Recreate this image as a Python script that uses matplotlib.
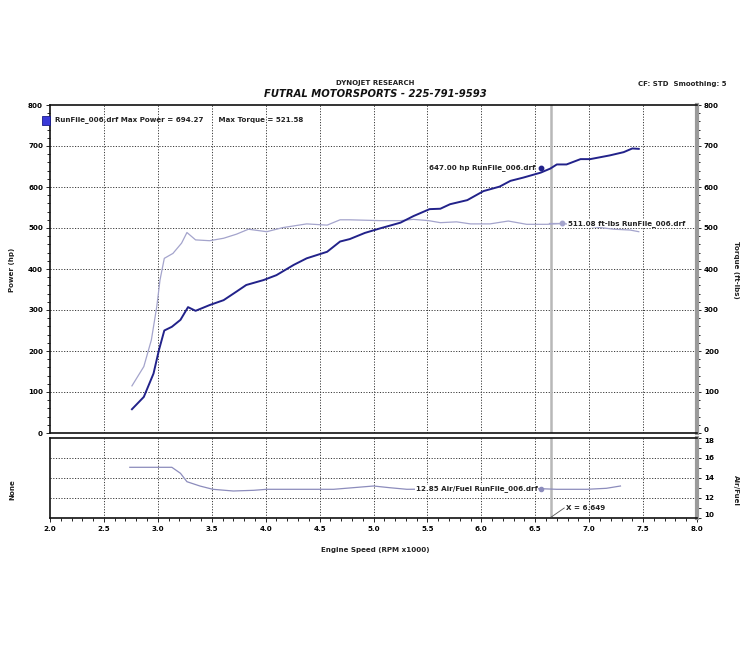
import matplotlib
matplotlib.use("Agg")
import matplotlib.pyplot as plt
from matplotlib.ticker import MultipleLocator
from matplotlib.patches import Rectangle

# ---------------- data ----------------
rpm_power = [2.76, 2.87, 2.96, 3.01, 3.06, 3.13, 3.21, 3.28, 3.35, 3.48, 3.61, 3.73, 3.82, 3.98,
             4.10, 4.26, 4.38, 4.57, 4.69, 4.78, 4.92, 5.06, 5.25, 5.37, 5.52, 5.62, 5.71, 5.87,
             6.02, 6.17, 6.27, 6.39, 6.55, 6.64, 6.70, 6.79, 6.92, 7.01, 7.19, 7.32, 7.40, 7.46]
power_hp = [58, 88, 145, 202, 250, 259, 276, 307, 298, 312, 324, 345, 361, 373,
            385, 410, 426, 442, 467, 473, 488, 499, 513, 529, 546, 547, 558, 568,
            590, 601, 615, 623, 635, 645, 655, 655, 668, 668, 677, 685, 694, 693]

rpm_torque = [2.76, 2.87, 2.94, 2.99, 3.02, 3.06, 3.14, 3.22, 3.27, 3.35, 3.48, 3.61, 3.73, 3.84,
              4.01, 4.16, 4.38, 4.57, 4.69, 4.78, 5.06, 5.25, 5.37, 5.51, 5.62, 5.77, 5.90,
              6.08, 6.25, 6.42, 6.61, 6.75, 7.04, 7.23, 7.38, 7.46]
torque_ftlb = [115, 162, 227, 308, 373, 426, 438, 463, 489, 471, 469, 475, 485, 497,
               491, 501, 510, 507, 520, 520, 518, 518, 521, 518, 513, 515, 510,
               510, 517, 509, 509, 511, 503, 497, 495, 491]

rpm_af = [2.74, 3.13, 3.21, 3.27, 3.39, 3.51, 3.70, 3.89, 4.01, 4.32, 4.63, 4.81, 5.00, 5.15,
          5.31, 5.60, 6.00, 6.30, 6.55, 6.70, 6.98, 7.16, 7.29]
air_fuel = [15.07, 15.07, 14.47, 13.63, 13.2, 12.87, 12.7, 12.77, 12.87, 12.87, 12.87, 13.03, 13.2, 13.03,
            12.87, 12.9, 12.9, 12.9, 12.93, 12.87, 12.87, 12.97, 13.2]

cursor_rpm = 6.649
power_marker = (6.55, 647.00)
torque_marker = (6.75, 511.08)
af_marker = (6.55, 12.93)

x_ticks = [2.0, 2.5, 3.0, 3.5, 4.0, 4.5, 5.0, 5.5, 6.0, 6.5, 7.0, 7.5, 8.0]
hp_ticks = [0, 100, 200, 300, 400, 500, 600, 700, 800]
af_ticks = [10, 12, 14, 16, 18]

max_power = 694.27
max_torque = 521.58

# ---------------- style ----------------
power_color = "#22228a"
torque_color = "#a4a4cc"
af_color = "#8c8cbc"
grid_kw = dict(color="#3a3a3a", linestyle=(0, (1.2, 1.6)), linewidth=0.7)
fs = 5.1

fig = plt.figure(figsize=(7.5, 6.49), dpi=100)
W, H = 750, 649

def frac_box(l, t, r, b):
    return [l / W, 1 - b / H, (r - l) / W, (b - t) / H]

ax = fig.add_axes(frac_box(50, 105, 697, 433))
ax2 = fig.add_axes(frac_box(50, 438, 697, 518), sharex=ax)

for a in (ax, ax2):
    a.set_xlim(2.0, 8.0)
    a.set_xticks(x_ticks)
    a.xaxis.set_minor_locator(MultipleLocator(0.1))
    for v in x_ticks[1:-1]:
        a.axvline(v, **grid_kw, zorder=1)
    a.axvline(cursor_rpm, color="#b8b8b8", linewidth=1.8, zorder=2)
    for s in a.spines.values():
        s.set_color("#111111")
        s.set_linewidth(1.2)
    a.spines["right"].set_color("#9a9a9a")
    a.spines["right"].set_linewidth(3)

# top axes
ax.set_ylim(0, 800)
ax.set_yticks(hp_ticks)
ax.yaxis.set_minor_locator(MultipleLocator(20))
for v in hp_ticks[1:-1]:
    ax.axhline(v, **grid_kw, zorder=1)
ax.tick_params(axis="y", which="both", left=True, right=True, labelleft=True, labelright=True,
               labelsize=fs, direction="out", length=3, width=0.6, pad=2)
ax.tick_params(axis="y", which="minor", length=2)
ax.tick_params(axis="x", which="both", bottom=False, labelbottom=False)
for tk in ax.yaxis.get_major_ticks():
    tk.label1.set_fontweight("bold")
    tk.label2.set_fontweight("bold")
ax.yaxis.get_major_ticks()[0].label2.set_va("bottom")

ax.plot(rpm_torque, torque_ftlb, color=torque_color, linewidth=0.9, zorder=3)
ax.plot(rpm_power, power_hp, color=power_color, linewidth=1.4, zorder=4)
ax.plot(*power_marker, "o", color=power_color, markersize=3.2, zorder=5)
ax.plot(*torque_marker, "o", color=torque_color, markersize=3.2, zorder=5)
ax.plot([torque_marker[0] - 0.12, torque_marker[0]], [torque_marker[1], torque_marker[1]],
        color=torque_color, linewidth=0.9, zorder=4)
ax.text(power_marker[0] - 0.05, power_marker[1], f"{power_marker[1]:.2f} hp RunFile_006.drf",
        ha="right", va="center", fontsize=fs, fontweight="bold", color="#222222", zorder=6)
ax.text(torque_marker[0] + 0.05, torque_marker[1], f"{torque_marker[1]:.2f} ft-lbs RunFile_006.drf",
        ha="left", va="center", fontsize=fs, fontweight="bold", color="#222222", zorder=6,
        bbox=dict(facecolor="white", edgecolor="none", pad=0.3))

# bottom axes
ax2.set_ylim(10, 18)
ax2.set_yticks(af_ticks)
ax2.yaxis.set_minor_locator(MultipleLocator(1))
for v in af_ticks[1:-1]:
    ax2.axhline(v, **grid_kw, zorder=1)
ax2.tick_params(axis="y", which="both", left=False, right=True, labelleft=False, labelright=True,
                labelsize=fs, direction="out", length=3, width=0.6, pad=2)
ax2.tick_params(axis="x", which="both", labelsize=fs, direction="out", length=3, width=0.6, pad=3)
ax2.tick_params(axis="x", which="minor", length=2)
for tk in ax2.yaxis.get_major_ticks():
    tk.label2.set_fontweight("bold")
for lab in ax2.get_xticklabels():
    lab.set_fontweight("bold")
ax2.yaxis.get_major_ticks()[-1].label2.set_va("top")
ax2.yaxis.get_major_ticks()[0].label2.set_va("bottom")
ax2.plot(rpm_af, air_fuel, color=af_color, linewidth=0.9, zorder=3)
ax2.plot(*af_marker, "o", color=af_color, markersize=3.0, zorder=5)
ax2.text(af_marker[0] - 0.03, af_marker[1], "12.85 Air/Fuel RunFile_006.drf",
         ha="right", va="center", fontsize=fs, fontweight="bold", color="#222222", zorder=6,
         bbox=dict(facecolor="white", edgecolor="none", pad=0.3))
ax2.plot([cursor_rpm, cursor_rpm + 0.12], [10.1, 11.0], color="#555555", linewidth=0.6, zorder=5)
ax2.text(cursor_rpm + 0.14, 11.0, f"X = {cursor_rpm:.3f}", ha="left", va="center",
         fontsize=fs, fontweight="bold", color="#222222", zorder=6)

# legend line
fig.add_artist(Rectangle((42 / W, 1 - 125 / H), 8 / W, 9 / H, facecolor="#3a3ad8",
                         edgecolor="#1a1a8a", linewidth=0.6))
fig.text(55 / W, 1 - 120 / H,
         f"RunFile_006.drf Max Power = {max_power:.2f}      Max Torque = {max_torque:.2f}",
         ha="left", va="center", fontsize=fs, fontweight="bold", color="#222222")

# titles
fig.text(375 / W, 1 - 83 / H, "DYNOJET RESEARCH", ha="center", va="center",
         fontsize=5.0, fontweight="bold", color="#222222")
fig.text(375 / W, 1 - 94 / H, "FUTRAL MOTORSPORTS - 225-791-9593", ha="center", va="center",
         fontsize=7.2, fontweight="bold", fontstyle="italic", color="#111111")
fig.text(726 / W, 1 - 84 / H, "CF: STD  Smoothing: 5", ha="right", va="center",
         fontsize=5.0, fontweight="bold", color="#222222")

# axis labels
fig.text(12 / W, 1 - 270 / H, "Power (hp)", rotation=90, ha="center", va="center",
         fontsize=fs, fontweight="bold", color="#222222")
fig.text(736 / W, 1 - 270 / H, "Torque (ft-lbs)", rotation=270, ha="center", va="center",
         fontsize=fs, fontweight="bold", color="#222222")
fig.text(12 / W, 1 - 490 / H, "None", rotation=90, ha="center", va="center",
         fontsize=fs, fontweight="bold", color="#222222")
fig.text(736 / W, 1 - 490 / H, "Air/Fuel", rotation=270, ha="center", va="center",
         fontsize=fs, fontweight="bold", color="#222222")
fig.text(375 / W, 1 - 550 / H, "Engine Speed (RPM x1000)", ha="center", va="center",
         fontsize=fs, fontweight="bold", color="#222222")

fig.savefig("out.png", dpi=100, facecolor="white")
